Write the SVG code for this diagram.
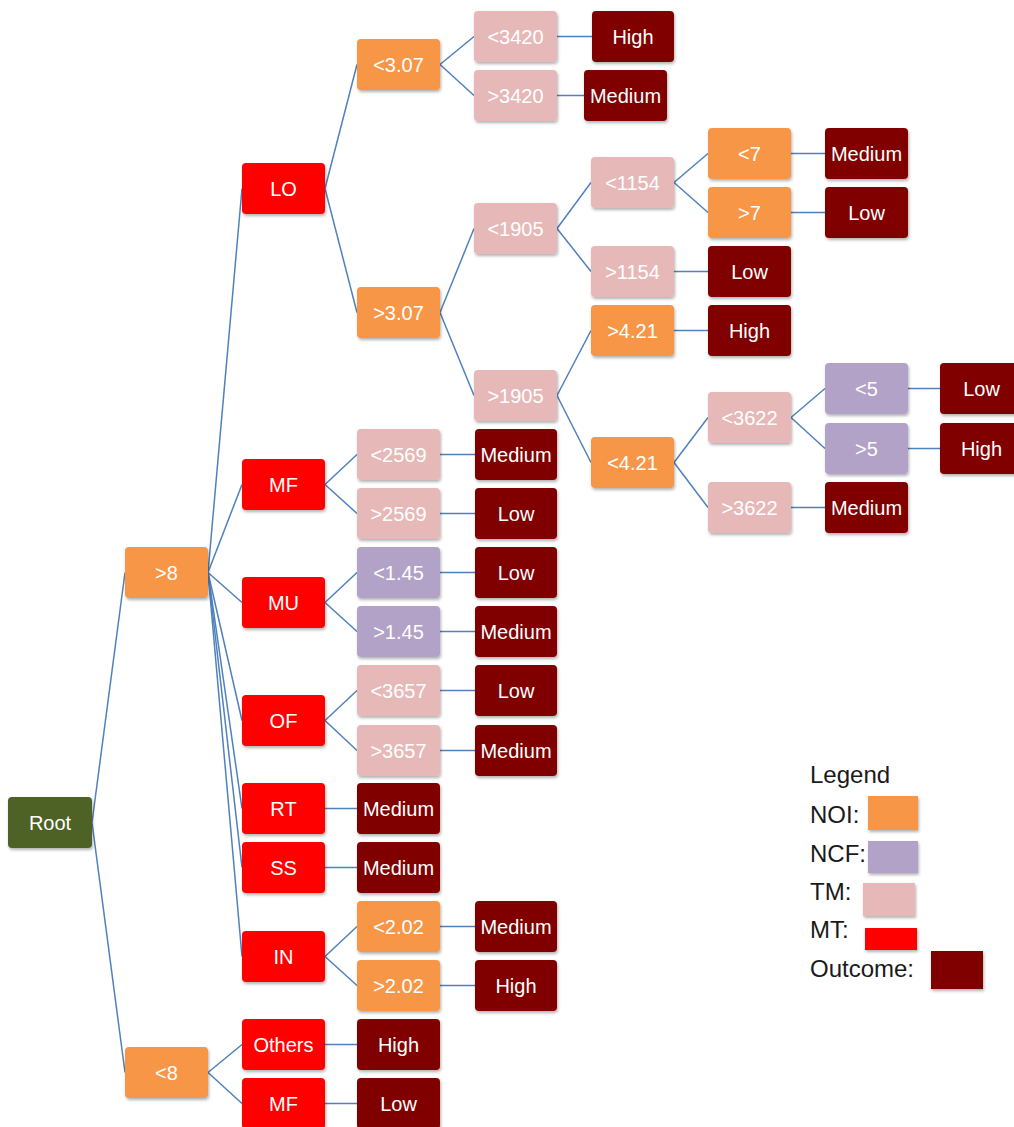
<svg xmlns="http://www.w3.org/2000/svg" width="1014" height="1127" viewBox="0 0 1014 1127">
<defs>
<filter id="sh" x="-10%" y="-10%" width="125%" height="135%">
<feDropShadow dx="1" dy="2" stdDeviation="1.5" flood-color="#000" flood-opacity="0.3"/>
</filter>
<style>
.n rect{filter:url(#sh)}
.n text{font-family:"Liberation Sans",Arial,sans-serif;font-size:20px;fill:#ffffff;text-anchor:middle}
.or{fill:#F79646}.pu{fill:#B2A2C7}.pk{fill:#E6B9B8}.rd{fill:#FF0000}.dk{fill:#800000}.ol{fill:#4F6228}
#connectors line{stroke:#4F81BD;stroke-width:1.5}
.lg{font-family:"Liberation Sans",Arial,sans-serif;font-size:24px;fill:#1a1a1a}
</style>
</defs>
<rect width="1014" height="1127" fill="#ffffff"/>
<g id="connectors">
<line x1="92" y1="822.5" x2="125" y2="572.5"/>
<line x1="92" y1="822.5" x2="125" y2="1072.5"/>
<line x1="208" y1="572.5" x2="242" y2="188.5"/>
<line x1="208" y1="572.5" x2="242" y2="484.5"/>
<line x1="208" y1="572.5" x2="242" y2="602.5"/>
<line x1="208" y1="572.5" x2="242" y2="720.5"/>
<line x1="208" y1="572.5" x2="242" y2="808.5"/>
<line x1="208" y1="572.5" x2="242" y2="867.5"/>
<line x1="208" y1="572.5" x2="242" y2="956.5"/>
<line x1="208" y1="1072.5" x2="242" y2="1044.5"/>
<line x1="208" y1="1072.5" x2="242" y2="1103.5"/>
<line x1="325" y1="188.5" x2="357" y2="64.5"/>
<line x1="325" y1="188.5" x2="357" y2="312.5"/>
<line x1="440" y1="64.5" x2="474" y2="36.5"/>
<line x1="440" y1="64.5" x2="474" y2="95.5"/>
<line x1="557" y1="36.5" x2="592" y2="36.5"/>
<line x1="557" y1="95.5" x2="584" y2="95.5"/>
<line x1="440" y1="312.5" x2="474" y2="228.5"/>
<line x1="440" y1="312.5" x2="474" y2="395.5"/>
<line x1="557" y1="228.5" x2="591" y2="182.5"/>
<line x1="557" y1="228.5" x2="591" y2="271.5"/>
<line x1="674" y1="182.5" x2="708" y2="153.5"/>
<line x1="674" y1="182.5" x2="708" y2="212.5"/>
<line x1="791" y1="153.5" x2="825" y2="153.5"/>
<line x1="791" y1="212.5" x2="825" y2="212.5"/>
<line x1="674" y1="271.5" x2="708" y2="271.5"/>
<line x1="557" y1="395.5" x2="591" y2="330.5"/>
<line x1="557" y1="395.5" x2="591" y2="462.5"/>
<line x1="674" y1="330.5" x2="708" y2="330.5"/>
<line x1="674" y1="462.5" x2="708" y2="417.5"/>
<line x1="674" y1="462.5" x2="708" y2="507.5"/>
<line x1="791" y1="417.5" x2="825" y2="388.5"/>
<line x1="791" y1="417.5" x2="825" y2="448.5"/>
<line x1="908" y1="388.5" x2="940" y2="388.5"/>
<line x1="908" y1="448.5" x2="940" y2="448.5"/>
<line x1="791" y1="507.5" x2="825" y2="507.5"/>
<line x1="325" y1="484.5" x2="357" y2="454.5"/>
<line x1="325" y1="484.5" x2="357" y2="513.5"/>
<line x1="440" y1="454.5" x2="475" y2="454.5"/>
<line x1="440" y1="513.5" x2="475" y2="513.5"/>
<line x1="325" y1="602.5" x2="357" y2="572.5"/>
<line x1="325" y1="602.5" x2="357" y2="631.5"/>
<line x1="440" y1="572.5" x2="475" y2="572.5"/>
<line x1="440" y1="631.5" x2="475" y2="631.5"/>
<line x1="325" y1="720.5" x2="357" y2="690.5"/>
<line x1="325" y1="720.5" x2="357" y2="750.5"/>
<line x1="440" y1="690.5" x2="475" y2="690.5"/>
<line x1="440" y1="750.5" x2="475" y2="750.5"/>
<line x1="325" y1="808.5" x2="357" y2="808.5"/>
<line x1="325" y1="867.5" x2="357" y2="867.5"/>
<line x1="325" y1="956.5" x2="357" y2="926.5"/>
<line x1="325" y1="956.5" x2="357" y2="985.5"/>
<line x1="440" y1="926.5" x2="475" y2="926.5"/>
<line x1="440" y1="985.5" x2="475" y2="985.5"/>
<line x1="325" y1="1044.5" x2="357" y2="1044.5"/>
<line x1="325" y1="1103.5" x2="357" y2="1103.5"/>
</g>
<g id="root" class="n"><rect class="ol" x="8" y="797" width="84" height="51" rx="4"/><text x="50" y="829.5">Root</text></g>
<g id="gt8" class="n"><rect class="or" x="125" y="547" width="83" height="51" rx="4"/><text x="166.5" y="579.5">&gt;8</text></g>
<g id="lt8" class="n"><rect class="or" x="125" y="1047" width="83" height="51" rx="4"/><text x="166.5" y="1079.5">&lt;8</text></g>
<g id="LO" class="n"><rect class="rd" x="242" y="163" width="83" height="51" rx="4"/><text x="283.5" y="195.5">LO</text></g>
<g id="lt307" class="n"><rect class="or" x="357" y="39" width="83" height="51" rx="4"/><text x="398.5" y="71.5">&lt;3.07</text></g>
<g id="lt3420" class="n"><rect class="pk" x="474" y="11" width="83" height="51" rx="4"/><text x="515.5" y="43.5">&lt;3420</text></g>
<g id="out_high1" class="n"><rect class="dk" x="592" y="11" width="82" height="51" rx="4"/><text x="633" y="43.5">High</text></g>
<g id="gt3420" class="n"><rect class="pk" x="474" y="70" width="83" height="51" rx="4"/><text x="515.5" y="102.5">&gt;3420</text></g>
<g id="out_med1" class="n"><rect class="dk" x="584" y="70" width="83" height="51" rx="4"/><text x="625.5" y="102.5">Medium</text></g>
<g id="gt307" class="n"><rect class="or" x="357" y="287" width="83" height="51" rx="4"/><text x="398.5" y="319.5">&gt;3.07</text></g>
<g id="lt1905" class="n"><rect class="pk" x="474" y="203" width="83" height="51" rx="4"/><text x="515.5" y="235.5">&lt;1905</text></g>
<g id="lt1154" class="n"><rect class="pk" x="591" y="157" width="83" height="51" rx="4"/><text x="632.5" y="189.5">&lt;1154</text></g>
<g id="lt7" class="n"><rect class="or" x="708" y="128" width="83" height="51" rx="4"/><text x="749.5" y="160.5">&lt;7</text></g>
<g id="out_med2" class="n"><rect class="dk" x="825" y="128" width="83" height="51" rx="4"/><text x="866.5" y="160.5">Medium</text></g>
<g id="gt7" class="n"><rect class="or" x="708" y="187" width="83" height="51" rx="4"/><text x="749.5" y="219.5">&gt;7</text></g>
<g id="out_low2" class="n"><rect class="dk" x="825" y="187" width="83" height="51" rx="4"/><text x="866.5" y="219.5">Low</text></g>
<g id="gt1154" class="n"><rect class="pk" x="591" y="246" width="83" height="51" rx="4"/><text x="632.5" y="278.5">&gt;1154</text></g>
<g id="out_low3" class="n"><rect class="dk" x="708" y="246" width="83" height="51" rx="4"/><text x="749.5" y="278.5">Low</text></g>
<g id="gt1905" class="n"><rect class="pk" x="474" y="370" width="83" height="51" rx="4"/><text x="515.5" y="402.5">&gt;1905</text></g>
<g id="gt421" class="n"><rect class="or" x="591" y="305" width="83" height="51" rx="4"/><text x="632.5" y="337.5">&gt;4.21</text></g>
<g id="out_high3" class="n"><rect class="dk" x="708" y="305" width="83" height="51" rx="4"/><text x="749.5" y="337.5">High</text></g>
<g id="lt421" class="n"><rect class="or" x="591" y="437" width="83" height="51" rx="4"/><text x="632.5" y="469.5">&lt;4.21</text></g>
<g id="lt3622" class="n"><rect class="pk" x="708" y="392" width="83" height="51" rx="4"/><text x="749.5" y="424.5">&lt;3622</text></g>
<g id="lt5" class="n"><rect class="pu" x="825" y="363" width="83" height="51" rx="4"/><text x="866.5" y="395.5">&lt;5</text></g>
<g id="out_low4" class="n"><rect class="dk" x="940" y="363" width="83" height="51" rx="4"/><text x="981.5" y="395.5">Low</text></g>
<g id="gt5" class="n"><rect class="pu" x="825" y="423" width="83" height="51" rx="4"/><text x="866.5" y="455.5">&gt;5</text></g>
<g id="out_high4" class="n"><rect class="dk" x="940" y="423" width="83" height="51" rx="4"/><text x="981.5" y="455.5">High</text></g>
<g id="gt3622" class="n"><rect class="pk" x="708" y="482" width="83" height="51" rx="4"/><text x="749.5" y="514.5">&gt;3622</text></g>
<g id="out_med3" class="n"><rect class="dk" x="825" y="482" width="83" height="51" rx="4"/><text x="866.5" y="514.5">Medium</text></g>
<g id="MF" class="n"><rect class="rd" x="242" y="459" width="83" height="51" rx="4"/><text x="283.5" y="491.5">MF</text></g>
<g id="lt2569" class="n"><rect class="pk" x="357" y="429" width="83" height="51" rx="4"/><text x="398.5" y="461.5">&lt;2569</text></g>
<g id="out_med4" class="n"><rect class="dk" x="475" y="429" width="82" height="51" rx="4"/><text x="516" y="461.5">Medium</text></g>
<g id="gt2569" class="n"><rect class="pk" x="357" y="488" width="83" height="51" rx="4"/><text x="398.5" y="520.5">&gt;2569</text></g>
<g id="out_low5" class="n"><rect class="dk" x="475" y="488" width="82" height="51" rx="4"/><text x="516" y="520.5">Low</text></g>
<g id="MU" class="n"><rect class="rd" x="242" y="577" width="83" height="51" rx="4"/><text x="283.5" y="609.5">MU</text></g>
<g id="lt145" class="n"><rect class="pu" x="357" y="547" width="83" height="51" rx="4"/><text x="398.5" y="579.5">&lt;1.45</text></g>
<g id="out_low6" class="n"><rect class="dk" x="475" y="547" width="82" height="51" rx="4"/><text x="516" y="579.5">Low</text></g>
<g id="gt145" class="n"><rect class="pu" x="357" y="606" width="83" height="51" rx="4"/><text x="398.5" y="638.5">&gt;1.45</text></g>
<g id="out_med5" class="n"><rect class="dk" x="475" y="606" width="82" height="51" rx="4"/><text x="516" y="638.5">Medium</text></g>
<g id="OF" class="n"><rect class="rd" x="242" y="695" width="83" height="51" rx="4"/><text x="283.5" y="727.5">OF</text></g>
<g id="lt3657" class="n"><rect class="pk" x="357" y="665" width="83" height="51" rx="4"/><text x="398.5" y="697.5">&lt;3657</text></g>
<g id="out_low7" class="n"><rect class="dk" x="475" y="665" width="82" height="51" rx="4"/><text x="516" y="697.5">Low</text></g>
<g id="gt3657" class="n"><rect class="pk" x="357" y="725" width="83" height="51" rx="4"/><text x="398.5" y="757.5">&gt;3657</text></g>
<g id="out_med6" class="n"><rect class="dk" x="475" y="725" width="82" height="51" rx="4"/><text x="516" y="757.5">Medium</text></g>
<g id="RT" class="n"><rect class="rd" x="242" y="783" width="83" height="51" rx="4"/><text x="283.5" y="815.5">RT</text></g>
<g id="out_med7" class="n"><rect class="dk" x="357" y="783" width="83" height="51" rx="4"/><text x="398.5" y="815.5">Medium</text></g>
<g id="SS" class="n"><rect class="rd" x="242" y="842" width="83" height="51" rx="4"/><text x="283.5" y="874.5">SS</text></g>
<g id="out_med8" class="n"><rect class="dk" x="357" y="842" width="83" height="51" rx="4"/><text x="398.5" y="874.5">Medium</text></g>
<g id="IN" class="n"><rect class="rd" x="242" y="931" width="83" height="51" rx="4"/><text x="283.5" y="963.5">IN</text></g>
<g id="lt202" class="n"><rect class="or" x="357" y="901" width="83" height="51" rx="4"/><text x="398.5" y="933.5">&lt;2.02</text></g>
<g id="out_med9" class="n"><rect class="dk" x="475" y="901" width="82" height="51" rx="4"/><text x="516" y="933.5">Medium</text></g>
<g id="gt202" class="n"><rect class="or" x="357" y="960" width="83" height="51" rx="4"/><text x="398.5" y="992.5">&gt;2.02</text></g>
<g id="out_high5" class="n"><rect class="dk" x="475" y="960" width="82" height="51" rx="4"/><text x="516" y="992.5">High</text></g>
<g id="Others" class="n"><rect class="rd" x="242" y="1019" width="83" height="51" rx="4"/><text x="283.5" y="1051.5">Others</text></g>
<g id="out_high6" class="n"><rect class="dk" x="357" y="1019" width="83" height="51" rx="4"/><text x="398.5" y="1051.5">High</text></g>
<g id="MF2" class="n"><rect class="rd" x="242" y="1078" width="83" height="51" rx="4"/><text x="283.5" y="1110.5">MF</text></g>
<g id="out_low8" class="n"><rect class="dk" x="357" y="1078" width="83" height="51" rx="4"/><text x="398.5" y="1110.5">Low</text></g>
<g id="legend">
<text class="lg" x="810" y="783">Legend</text>
<text class="lg" x="810" y="823">NOI:</text>
<rect class="or" x="868" y="796" width="50" height="34" filter="url(#sh)"/>
<text class="lg" x="810" y="862">NCF:</text>
<rect class="pu" x="868" y="841" width="50" height="32" filter="url(#sh)"/>
<text class="lg" x="810" y="900">TM:</text>
<rect class="pk" x="863" y="883" width="52" height="33" filter="url(#sh)"/>
<text class="lg" x="810" y="938">MT:</text>
<rect class="rd" x="865" y="928" width="52" height="22" filter="url(#sh)"/>
<text class="lg" x="810" y="977">Outcome:</text>
<rect class="dk" x="931" y="951" width="52" height="38" filter="url(#sh)"/>
</g>
</svg>
